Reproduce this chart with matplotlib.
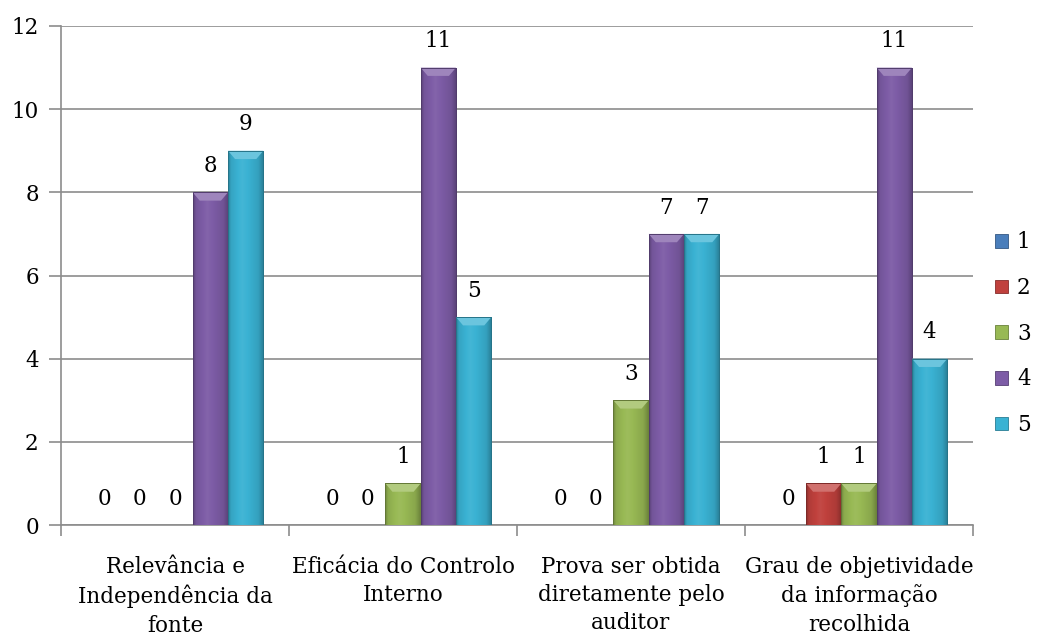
import numpy as np
import matplotlib
matplotlib.use("Agg")
import matplotlib.pyplot as plt
from matplotlib.colors import to_rgb
from matplotlib.patches import Polygon, Patch

categories = ["Relevância e\nIndependência da\nfonte",
              "Eficácia do Controlo\nInterno",
              "Prova ser obtida\ndiretamente pelo\nauditor",
              "Grau de objetividade\nda informação\nrecolhida"]
series_names = ["1", "2", "3", "4", "5"]
values = {
    "1": [0, 0, 0, 0],
    "2": [0, 0, 0, 1],
    "3": [0, 1, 3, 1],
    "4": [8, 11, 7, 11],
    "5": [9, 5, 7, 4],
}
colors = ["#4A7EBB", "#C0413D", "#98B954", "#7D5CA6", "#3AB2D3"]

plt.rcParams["font.family"] = ["DejaVu Serif"]
FS = 15.5
plt.rcParams["font.size"] = FS

fig = plt.figure(figsize=(10.5, 6.37), dpi=100)
ax = fig.add_axes([61 / 1050, 112 / 637, 912 / 1050, 499 / 637])

n = len(series_names)
bw = 0.155
x = np.arange(len(categories))
grid_c = "#8c8c8c"


def shade(c, f):
    r = np.array(to_rgb(c))
    if f >= 1:
        return r + (1 - r) * (f - 1)
    return r * f


for i, (name, col) in enumerate(zip(series_names, colors)):
    pos = x + (i - (n - 1) / 2) * bw
    bars = ax.bar(pos, values[name], bw, color=col, zorder=3, linewidth=0)
    for b, v in zip(bars, values[name]):
        ax.annotate(str(v), (b.get_x() + b.get_width() / 2, v), xytext=(0, 19),
                    textcoords="offset points", ha="center", va="center",
                    fontsize=FS, zorder=5)
        if v == 0:
            continue
        # bevel look: horizontal shading + light top facet
        x0, w, h = b.get_x(), b.get_width(), b.get_height()
        t = np.linspace(0, 1, 64)
        fac = np.interp(t, [0, 0.08, 0.4, 0.85, 1], [0.72, 0.92, 1.05, 0.9, 0.7])
        img = np.array([[shade(col, f) for f in fac]])
        im = ax.imshow(img, extent=(x0, x0 + w, 0, h), aspect="auto",
                       zorder=3.5, interpolation="bilinear")
        im.set_clip_path(b)
        bev = 0.2
        ax.add_patch(Polygon([(x0, h), (x0 + w, h), (x0 + w - 0.2 * w, h - bev),
                              (x0 + 0.2 * w, h - bev)], closed=True,
                             facecolor=shade(col, 1.25), edgecolor="none", zorder=4))
        ax.add_patch(Polygon([(x0, 0), (x0, h), (x0 + w, h), (x0 + w, 0)], closed=False,
                             fill=False, edgecolor=shade(col, 0.65), lw=0.7, zorder=4))

ax.set_xlim(-0.5, len(categories) - 0.5)
ax.set_ylim(0, 12)
ax.set_yticks(range(0, 13, 2))
ax.yaxis.grid(True, color=grid_c, lw=1.2, zorder=0)
ax.set_axisbelow(True)

ax.set_xticks(np.arange(len(categories) + 1) - 0.5)
ax.set_xticklabels([])
ax.set_xticks(x, minor=True)
ax.set_xticklabels(categories, minor=True, linespacing=1.38)
ax.tick_params(axis="x", which="major", length=8, color=grid_c, width=1.2, direction="out")
ax.tick_params(axis="x", which="minor", length=0, pad=22)
ax.tick_params(axis="y", length=9, color=grid_c, width=1.2, pad=7)

for s in ["top", "right"]:
    ax.spines[s].set_visible(False)
for s in ["left", "bottom"]:
    ax.spines[s].set_color(grid_c)
    ax.spines[s].set_linewidth(1.2)

handles = [Patch(facecolor=c, edgecolor=shade(c, 0.7), lw=0.6) for c in colors]
fig.legend(handles, series_names, loc="center left", bbox_to_anchor=(976 / 1050, 0.476),
           frameon=False, handlelength=0.6, handleheight=0.6, handletextpad=0.4,
           labelspacing=1.1, fontsize=FS)

fig.savefig("out.png", dpi=100)
